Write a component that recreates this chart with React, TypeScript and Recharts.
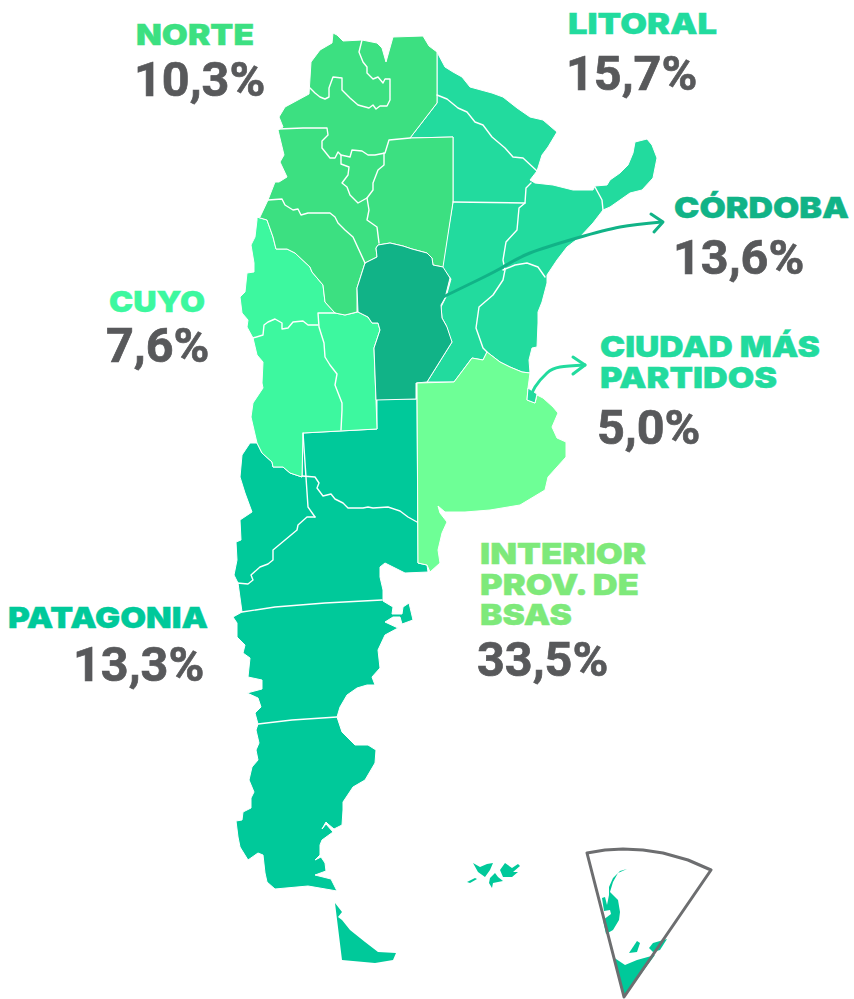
import React from "react";
import { ScatterChart, Scatter, XAxis, YAxis } from "recharts";

type P = [number, number];

const COLORS = {
  norte: "#3ce081", litoral: "#22db9e", cordoba: "#11b387", cuyo: "#3df89f",
  interior: "#6eff96", patagonia: "#00c99a", interiorLabel: "#7ee97a", value: "#58595b", frame: "#6d6e70",
};

const norteOutline: P[] = [[333,33],[337,35],[343,41],[362,40],[377,43],[382,48],[386,62],[393,37],[423,36],[429,46],[437,52],[437,103],[410,138],[453,137],[453,202],[443,267],[433,265],[432,258],[427,253],[412,249],[403,246],[390,243],[378,245],[376,248],[377,257],[365,263],[357,288],[357,312],[345,315],[335,313],[325,302],[323,285],[312,272],[310,267],[295,253],[287,249],[276,249],[273,237],[267,220],[257,217],[260,217],[268,200],[275,182],[279,182],[287,177],[280,162],[284,155],[278,130],[283,127],[279,117],[285,107],[309,94],[311,62],[320,50],[332,43]];
const litoralOutline: P[] = [[437,52],[445,67],[453,72],[462,77],[470,87],[492,93],[503,97],[517,108],[530,117],[543,120],[557,132],[548,147],[542,155],[537,171],[530,180],[535,183],[553,185],[573,190],[593,190],[595,186],[607,185],[610,180],[620,173],[628,165],[633,153],[635,142],[647,139],[652,145],[657,158],[653,178],[642,190],[630,193],[620,200],[610,207],[603,210],[593,223],[580,237],[567,247],[557,260],[547,275],[547,283],[542,302],[538,312],[538,323],[537,347],[532,348],[529,360],[530,373],[522,372],[510,367],[500,362],[487,352],[483,360],[472,358],[454,382],[427,382],[452,342],[450,338],[446,325],[442,318],[441,307],[446,297],[451,279],[442,267],[453,202],[453,137],[410,138],[437,103]];
const cordobaOutline: P[] = [[376,248],[378,245],[390,243],[403,246],[412,249],[427,253],[432,258],[433,265],[443,267],[450,278],[445,298],[441,305],[442,318],[447,327],[452,342],[427,382],[416,383],[416,399],[376,400],[374,348],[380,330],[378,323],[372,323],[368,317],[358,312],[357,288],[365,263],[377,257]];
const cuyoOutline: P[] = [[257,217],[257,220],[255,237],[251,245],[254,263],[254,272],[247,273],[245,292],[240,297],[242,313],[248,320],[247,327],[253,338],[257,355],[263,362],[262,383],[263,388],[253,403],[251,417],[257,443],[262,453],[272,462],[273,467],[283,467],[290,473],[302,477],[303,433],[340,431],[377,429],[376,400],[374,348],[380,330],[378,323],[372,323],[368,317],[358,312],[345,315],[335,313],[325,302],[323,285],[312,272],[310,267],[295,253],[287,249],[276,249],[273,237],[267,220]];
const patagoniaOutline: P[] = [[250,443],[242,455],[240,477],[245,493],[252,512],[240,520],[241,540],[236,542],[237,560],[234,575],[238,583],[242,612],[233,617],[237,623],[237,637],[245,645],[243,653],[250,658],[248,677],[262,680],[262,689],[247,693],[258,698],[261,707],[255,713],[258,724],[256,730],[259,743],[256,750],[258,760],[252,767],[249,780],[254,792],[251,798],[251,808],[243,812],[242,820],[236,821],[238,837],[240,847],[248,860],[258,853],[263,855],[265,873],[267,882],[275,889],[308,886],[337,891],[331,879],[315,875],[326,871],[325,863],[321,857],[315,860],[320,855],[320,845],[322,840],[333,832],[326,824],[322,829],[326,822],[328,824],[334,829],[342,825],[343,810],[343,802],[353,787],[365,780],[375,763],[376,750],[368,745],[355,745],[350,740],[342,732],[337,717],[340,707],[347,695],[357,688],[367,685],[375,685],[372,677],[380,668],[378,650],[385,635],[398,628],[385,622],[393,617],[400,617],[402,624],[413,620],[409,603],[403,607],[402,614],[392,614],[393,607],[383,601],[383,590],[380,577],[380,567],[385,563],[405,573],[428,572],[427,565],[418,563],[417,399],[377,399],[377,429],[340,431],[303,433],[302,477],[290,473],[283,467],[273,467],[272,462],[262,453],[257,443]];
const interiorOutline: P[] = [[417,383],[454,382],[472,358],[483,360],[487,352],[500,362],[510,367],[522,372],[530,373],[528,388],[527,400],[535,403],[537,395],[543,398],[553,407],[558,413],[552,427],[557,438],[566,442],[566,457],[557,467],[548,477],[545,490],[520,505],[490,510],[465,512],[445,512],[438,506],[440,513],[447,522],[442,533],[438,550],[440,563],[430,572],[427,565],[418,563]];
const ciudadOutline: P[] = [[528,388],[527,400],[535,403],[537,394]];
const fuegoOutline: P[] = [[335,903],[342,912],[338,917],[342,920],[350,930],[365,942],[378,952],[396,953],[393,960],[375,963],[342,960]];
const malvinasA: P[] = [[500,870],[505,863],[512,868],[518,864],[520,866],[513,872],[518,872],[512,877],[503,877]];
const malvinasB: P[] = [[490,878],[495,873],[498,877],[503,881],[498,882],[493,883],[492,888],[489,883]];
const malvinasC: P[] = [[473,863],[480,867],[487,864],[493,863],[490,870],[485,877],[478,872]];
const malvinasD: P[] = [[467,882],[475,878],[477,879],[470,883]];
const antarticaPeninsula: P[] = [[627,869],[618,873],[613,882],[610,892],[618,900],[620,912],[619,920],[613,930],[606,934],[603,920],[611,914],[610,910],[604,911],[602,898],[605,897],[607,905],[609,895],[609,887],[613,878],[620,871]];
const antarticaMain: P[] = [[613,957],[625,965],[637,960],[655,955],[624,997]];
const antarticaRonne: P[] = [[629,953],[633,947],[637,941],[640,943],[637,952]];
const antarticaFilchner: P[] = [[649,948],[653,943],[667,939],[660,950],[653,952]];
const insetFrame: P[] = [[587,853],[605,850],[623,849],[643,850],[663,853],[688,860],[711,870],[624,997],[587,853]];

const norteBorders: P[][] = [
  [[362,40],[359,52],[363,62],[367,67],[367,73],[373,79],[378,77],[383,83],[385,79],[390,79],[390,100],[387,106],[380,106],[376,109],[373,105],[369,108],[358,105],[350,98],[342,90],[342,78],[333,77],[329,88],[329,97],[325,99],[320,97],[315,93],[310,88]],
  [[278,129],[303,128],[327,128],[328,135],[322,141],[322,148],[330,158],[335,158],[338,152],[341,155],[350,157],[352,150],[362,151],[368,155],[375,155],[385,153],[389,140],[410,138]],
  [[341,155],[341,164],[349,167],[348,175],[342,183],[347,187],[350,195],[358,203],[367,198],[373,190],[373,183],[378,170],[384,165],[384,153]],
  [[367,198],[369,210],[367,220],[377,227],[379,243]],
  [[268,200],[282,199],[285,205],[293,210],[298,209],[301,215],[308,213],[318,213],[330,213],[335,217],[338,223],[345,230],[353,237],[365,263]],
];
const litoralBorders: P[][] = [
  [[437,95],[447,99],[458,108],[467,112],[475,122],[483,125],[492,137],[505,148],[513,157],[523,158],[537,171]],
  [[453,202],[525,203],[526,188],[531,183]],
  [[525,203],[519,208],[517,230],[506,242],[503,260],[505,270],[503,280],[493,295],[479,307],[476,328],[483,348],[487,352]],
  [[503,270],[515,265],[527,263],[538,267],[545,277]],
  [[595,187],[602,200],[603,210]],
];
const cuyoBorders: P[][] = [
  [[253,338],[263,335],[264,325],[268,322],[275,319],[282,323],[282,329],[288,328],[293,322],[303,321],[308,325],[318,325]],
  [[335,313],[318,313],[319,327],[324,343],[325,357],[330,365],[337,374],[335,385],[342,403],[342,410],[341,430]],
];
const patagoniaBorders: P[][] = [
  [[302,476],[315,477],[319,483],[317,488],[323,496],[331,494],[335,499],[343,503],[348,508],[363,508],[368,507],[373,508],[388,507],[400,511],[408,517],[417,522]],
  [[303,433],[308,507],[315,517]],
  [[315,517],[307,517],[298,525],[297,530],[285,540],[273,550],[273,560],[268,564],[260,567],[251,575],[253,580],[248,584],[237,583]],
  [[242,612],[275,607],[325,603],[382,600]],
  [[258,724],[292,720],[337,717]],
];
const cordobaArrow: P[] = [[443,297],[480,279],[503,267],[530,253],[577,238],[620,227],[662,222]];
const cordobaArrowHead: P[] = [[651,214],[663,222],[654,232]];
const ciudadArrow: P[] = [[531,397],[535,387],[547,373],[560,367],[585,365]];
const ciudadArrowHead: P[] = [[573,357],[585,365],[573,374]];

const regionNames = ["NORTE", "LITORAL", "CÓRDOBA", "CUYO", "CIUDAD MÁS", "PARTIDOS", "INTERIOR", "PROV. DE", "BSAS", "PATAGONIA"];
const shareValues = ["10,3%", "15,7%", "13,6%", "7,6%", "5,0%", "33,5%", "13,3%"];

const nameLabels = [
  { x: 136, y: 45, text: regionNames[0], w: 118, color: COLORS.norte },
  { x: 568, y: 34, text: regionNames[1], w: 149, color: COLORS.litoral },
  { x: 674, y: 218, text: regionNames[2], w: 175, color: COLORS.cordoba },
  { x: 109, y: 312, text: regionNames[3], w: 96, color: COLORS.cuyo },
  { x: 600, y: 357, text: regionNames[4], w: 220, color: COLORS.litoral },
  { x: 600, y: 388, text: regionNames[5], w: 177, color: COLORS.litoral },
  { x: 480, y: 564, text: regionNames[6], w: 166, color: COLORS.interiorLabel },
  { x: 480, y: 595, text: regionNames[7], w: 159, color: COLORS.interiorLabel },
  { x: 480, y: 625, text: regionNames[8], w: 92, color: COLORS.interiorLabel },
  { x: 8, y: 628, text: regionNames[9], w: 200, color: COLORS.patagonia },
];
const valueLabels = [
  { x: 134, y: 96, text: shareValues[0] },
  { x: 566, y: 90, text: shareValues[1] },
  { x: 673, y: 274, text: shareValues[2] },
  { x: 106, y: 362, text: shareValues[3] },
  { x: 597, y: 444, text: shareValues[4] },
  { x: 477, y: 676, text: shareValues[5] },
  { x: 73, y: 681, text: shareValues[6] },
];

const pts = (a: P[]) => a.map(([x, y]) => ({ x, y }));
const closed = (a: P[]) => pts([...a, a[0]]);
const noDot = () => <g />;

const Region = (outline: P[], fill: string, key: string, stroke = "#ffffff", sw = 1) => (
  <Scatter key={key} data={closed(outline)} isAnimationActive={false} shape={noDot} fill={fill}
    line={{ fill, stroke, strokeWidth: sw, strokeLinejoin: "round" }} />
);
const Stroke = (line: P[], stroke: string, key: string, sw = 1.4, joint = "linear") => (
  <Scatter key={key} data={pts(line)} isAnimationActive={false} shape={noDot} fill={stroke} lineJointType={joint as any}
    line={{ stroke, strokeWidth: sw, fill: "none", strokeLinejoin: "round", strokeLinecap: "round" }} />
);

const NameMark = (p: any) => {
  const d = p.payload;
  return (
    <text x={p.cx} y={p.cy} fill={d.color} stroke={d.color} strokeWidth={0.4} fontFamily="Inter" fontWeight={900}
      fontSize={29} textLength={d.w} lengthAdjust="spacingAndGlyphs">{d.text}</text>
  );
};
const ValueMark = (p: any) => (
  <text x={p.cx} y={p.cy} fill={COLORS.value} stroke={COLORS.value} strokeWidth={0.7} fontFamily="Roboto" fontWeight={700} fontSize={48.5}>{p.payload.text}</text>
);

export default function App() {
  return (
    <div style={{ position: "absolute", left: 0, top: 0, width: 854, height: 999, background: "#fff" }}>
      <ScatterChart width={854} height={999} margin={{ top: 0, right: 0, bottom: 0, left: 0 }}>
        <XAxis type="number" dataKey="x" domain={[0, 854]} hide />
        <YAxis type="number" dataKey="y" domain={[0, 999]} reversed hide />
        {Region(patagoniaOutline, COLORS.patagonia, "patagonia")}
        {Region(fuegoOutline, COLORS.patagonia, "fuego", COLORS.patagonia, 0)}
        {Region(cuyoOutline, COLORS.cuyo, "cuyo")}
        {Region(litoralOutline, COLORS.litoral, "litoral")}
        {Region(norteOutline, COLORS.norte, "norte")}
        {Region(cordobaOutline, COLORS.cordoba, "cordoba")}
        {Region(interiorOutline, COLORS.interior, "interior")}
        {Region(ciudadOutline, COLORS.litoral, "ciudad")}
        {[malvinasA, malvinasB, malvinasC, malvinasD].map((m, i) => Region(m, COLORS.patagonia, `malv${i}`, COLORS.patagonia, 0))}
        {[antarticaPeninsula, antarticaMain, antarticaRonne, antarticaFilchner].map((m, i) => Region(m, COLORS.patagonia, `ant${i}`, COLORS.patagonia, 0))}
        {Stroke(insetFrame, COLORS.frame, "frame", 3)}
        {norteBorders.map((l, i) => Stroke(l, "#ffffff", `nb${i}`))}
        {litoralBorders.map((l, i) => Stroke(l, "#ffffff", `lb${i}`))}
        {cuyoBorders.map((l, i) => Stroke(l, "#ffffff", `cb${i}`))}
        {patagoniaBorders.map((l, i) => Stroke(l, "#ffffff", `pb${i}`))}
        {Stroke(cordobaArrow, COLORS.cordoba, "ca", 3, "natural")}
        {Stroke(cordobaArrowHead, COLORS.cordoba, "cah", 3)}
        {Stroke(ciudadArrow, COLORS.litoral, "da", 3, "natural")}
        {Stroke(ciudadArrowHead, COLORS.litoral, "dah", 3)}
        <Scatter data={nameLabels} isAnimationActive={false} shape={NameMark} />
        <Scatter data={valueLabels} isAnimationActive={false} shape={ValueMark} />
      </ScatterChart>
    </div>
  );
}
